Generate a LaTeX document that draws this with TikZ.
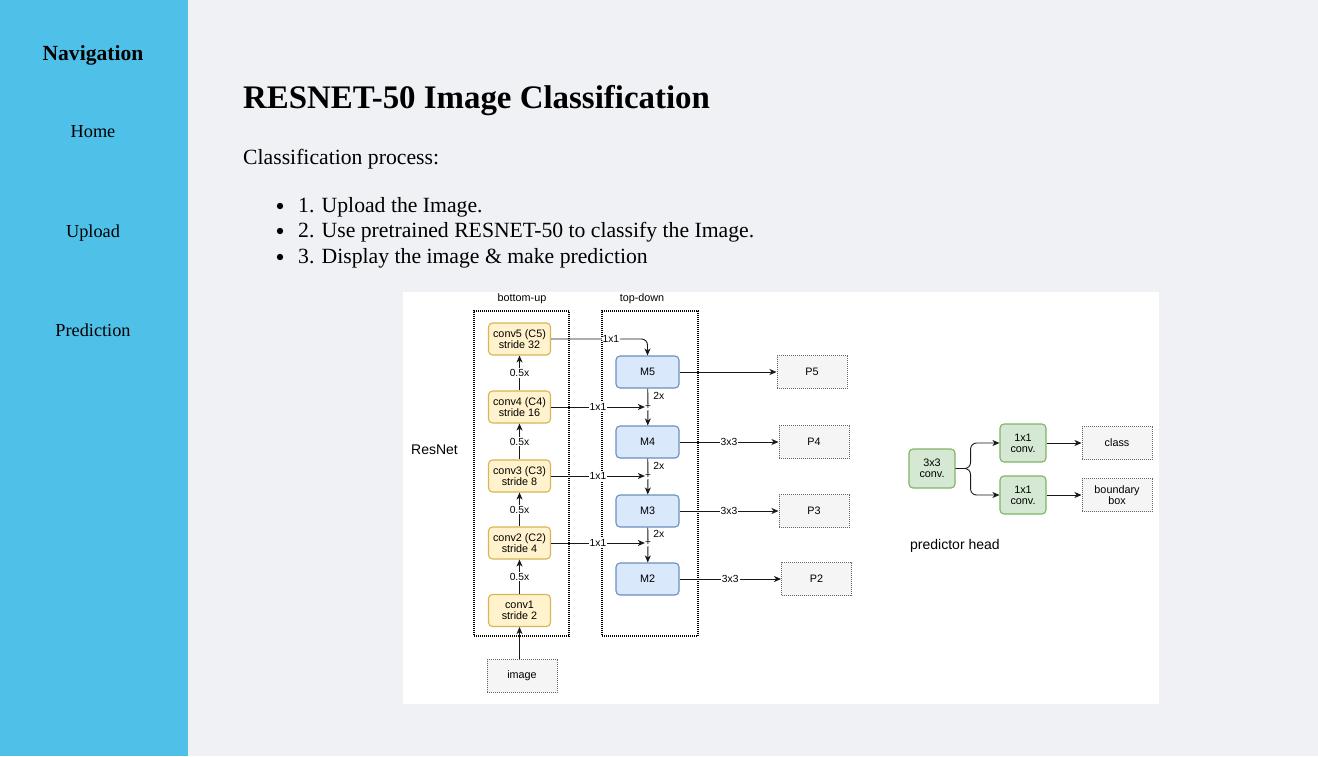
\documentclass[tikz,border=0pt]{standalone}
\usepackage{fontspec}
\setmainfont{Liberation Serif}
\newfontfamily\diagfont{Liberation Sans}
\usetikzlibrary{arrows.meta,positioning}
\definecolor{sidebar}{RGB}{79,193,233}
\definecolor{pagebg}{RGB}{240,241,245}
\definecolor{convfill}{RGB}{255,242,204}
\definecolor{convdraw}{RGB}{214,182,86}
\definecolor{mfill}{RGB}{218,232,252}
\definecolor{mdraw}{RGB}{108,142,191}
\definecolor{headfill}{RGB}{213,232,212}
\definecolor{headdraw}{RGB}{130,179,102}
\definecolor{outfill}{RGB}{245,245,245}
\definecolor{outdraw}{RGB}{102,102,102}
\tikzset{
  navhead/.style={anchor=base,font=\fontsize{21.6}{26}\selectfont\bfseries},
  navlink/.style={anchor=base,font=\fontsize{18.3}{22}\selectfont},
  bodytext/.style={anchor=base west,inner sep=0pt,font=\fontsize{21.7}{26}\selectfont},
  diag/.style={align=center,inner sep=1pt,font=\diagfont\fontsize{10.8}{10.8}\selectfont},
  convbox/.style={diag,draw=convdraw,fill=convfill,line width=1.1pt,rounded corners=4pt,minimum width=62pt,minimum height=32pt},
  mbox/.style={diag,draw=mdraw,fill=mfill,line width=1.1pt,rounded corners=4pt,minimum width=63pt,minimum height=32pt},
  headbox/.style={diag,draw=headdraw,fill=headfill,line width=1.1pt,rounded corners=4pt,minimum width=46pt,minimum height=38pt},
  outbox/.style={diag,draw=outdraw,fill=outfill,line width=1pt,dash pattern=on 1pt off 1pt,minimum width=70pt,minimum height=33pt},
  frame/.style={draw=black,line width=1.1pt,dash pattern=on 1pt off 1pt,minimum width=95pt,minimum height=325pt},
  tag/.style={anchor=base,inner sep=0pt,font=\diagfont\fontsize{10.8}{12}\selectfont},
  lbl/.style={fill=white,inner sep=1pt,font=\diagfont\fontsize{10.3}{10}\selectfont},
  lblr/.style={right,inner sep=5pt,font=\diagfont\fontsize{10.3}{10}\selectfont},
  plus/.style={inner sep=0pt,font=\diagfont\fontsize{10}{10}\selectfont},
  wire/.style={draw=black!90,line width=0.9pt},
  link/.style={wire,-{Stealth[length=7pt,width=6pt,inset=2pt]}}
}
\begin{document}
\begin{tikzpicture}[x=1pt,y=-1pt]
\pgfmathsetmacro{\CX}{519.5}
\pgfmathsetmacro{\MX}{647.5}
\useasboundingbox (0,0) rectangle (1318,756);
\fill[pagebg] (0,0) rectangle (1318,756);
\fill[sidebar] (0,0) rectangle (188,756);
\fill[white] (403,292) rectangle (1159,704);
\node[navhead] (nav) at (93,60) {Navigation};
\node[navlink] (home) at (93,137) {Home};
\node[navlink] (upload) at (93,237) {Upload};
\node[navlink] (predict) at (93,336) {Prediction};
\node[anchor=base west,inner sep=0pt,font=\fontsize{32.9}{39}\selectfont\bfseries] (title) at (243,108) {RESNET-50 Image Classification};
\node[bodytext] (intro) at (243,164) {Classification process:};
\node[bodytext] (item1) at (298,212) {1. Upload the Image.};
\node[bodytext] (item2) at (298,237) {2. Use pretrained RESNET-50 to classify the Image.};
\node[bodytext] (item3) at (298,263) {3. Display the image \& make prediction};
\foreach \it in {item1,item2,item3}
  \fill ([xshift=-18pt,yshift=6pt]\it.base west) circle (3.2pt);
\node[frame] (bu) at (521.5,473.5) {};
\node[frame,minimum width=96pt] (td) at (650,473.5) {};
\node[tag] (butag) at (522,301) {bottom-up};
\node[tag] (tdtag) at (642,301) {top-down};
\node[anchor=base west,inner sep=0pt,font=\diagfont\fontsize{14}{16}\selectfont] (resnet) at (411,454) {ResNet};
\node[convbox] (c5) at (\CX,339) {conv5 (C5)\\stride 32};
\node[convbox] (c4) at (\CX,407) {conv4 (C4)\\stride 16};
\node[convbox] (c3) at (\CX,476) {conv3 (C3)\\stride 8};
\node[convbox] (c2) at (\CX,543) {conv2 (C2)\\stride 4};
\node[convbox] (c1) at (\CX,610.5) {conv1\\stride 2};
\node[outbox] (img) at (522,676) {image};
\node[mbox] (m5) at (\MX,372) {M5};
\node[mbox] (m4) at (\MX,442) {M4};
\node[mbox] (m3) at (\MX,511) {M3};
\node[mbox] (m2) at (\MX,579) {M2};
\node[plus] (s4) at (648,407) {+};
\node[plus] (s3) at (648,476) {+};
\node[plus] (s2) at (648,543) {+};
\node[outbox] (p5) at (812,372) {P5};
\node[outbox] (p4) at (814,442) {P4};
\node[outbox] (p3) at (814,511) {P3};
\node[outbox] (p2) at (816.5,579) {P2};
\node[headbox,minimum height=39pt] (h3) at (932,468.5) {3x3\\conv.};
\node[headbox] (h1a) at (1023,443) {1x1\\conv.};
\node[headbox] (h1b) at (1023,495) {1x1\\conv.};
\node[outbox] (cls) at (1117,443) {class};
\node[outbox] (bbox) at (1117,495) {boundary\\box};
\node[anchor=base west,inner sep=0pt,font=\diagfont\fontsize{14}{16}\selectfont] (headtag) at (910,549) {predictor head};
\draw[link] (img.north -| c1.south) -- (c1.south);
\draw[link] (c1) -- node[lbl] {0.5x} (c2);
\draw[link] (c2) -- node[lbl] {0.5x} (c3);
\draw[link] (c3) -- node[lbl] {0.5x} (c4);
\draw[link] (c4) -- node[lbl] {0.5x} (c5);
\draw[link,rounded corners=6pt] (c5.east) -| node[lbl,pos=0.31] {1x1} (m5.north);
\draw[link] (c4) -- node[lbl] {1x1} (s4);
\draw[link] (c3) -- node[lbl] {1x1} (s3);
\draw[link] (c2) -- node[lbl] {1x1} (s2);
\draw[wire] (m5) -- node[lblr] {2x} (s4);
\draw[wire] (m4) -- node[lblr] {2x} (s3);
\draw[wire] (m3) -- node[lblr] {2x} (s2);
\draw[link] (s4) -- (m4);
\draw[link] (s3) -- (m3);
\draw[link] (s2) -- (m2);
\draw[link] (m5) -- (p5);
\draw[link] (m4) -- node[lbl] {3x3} (p4);
\draw[link] (m3) -- node[lbl] {3x3} (p3);
\draw[link] (m2) -- node[lbl] {3x3} (p2);
\draw[link,rounded corners=6pt] (h3.east) -- ++(15,0) |- (h1a.west);
\draw[link,rounded corners=6pt] (h3.east) -- ++(15,0) |- (h1b.west);
\draw[link] (h1a) -- (cls);
\draw[link] (h1b) -- (bbox);
\end{tikzpicture}
\end{document}
